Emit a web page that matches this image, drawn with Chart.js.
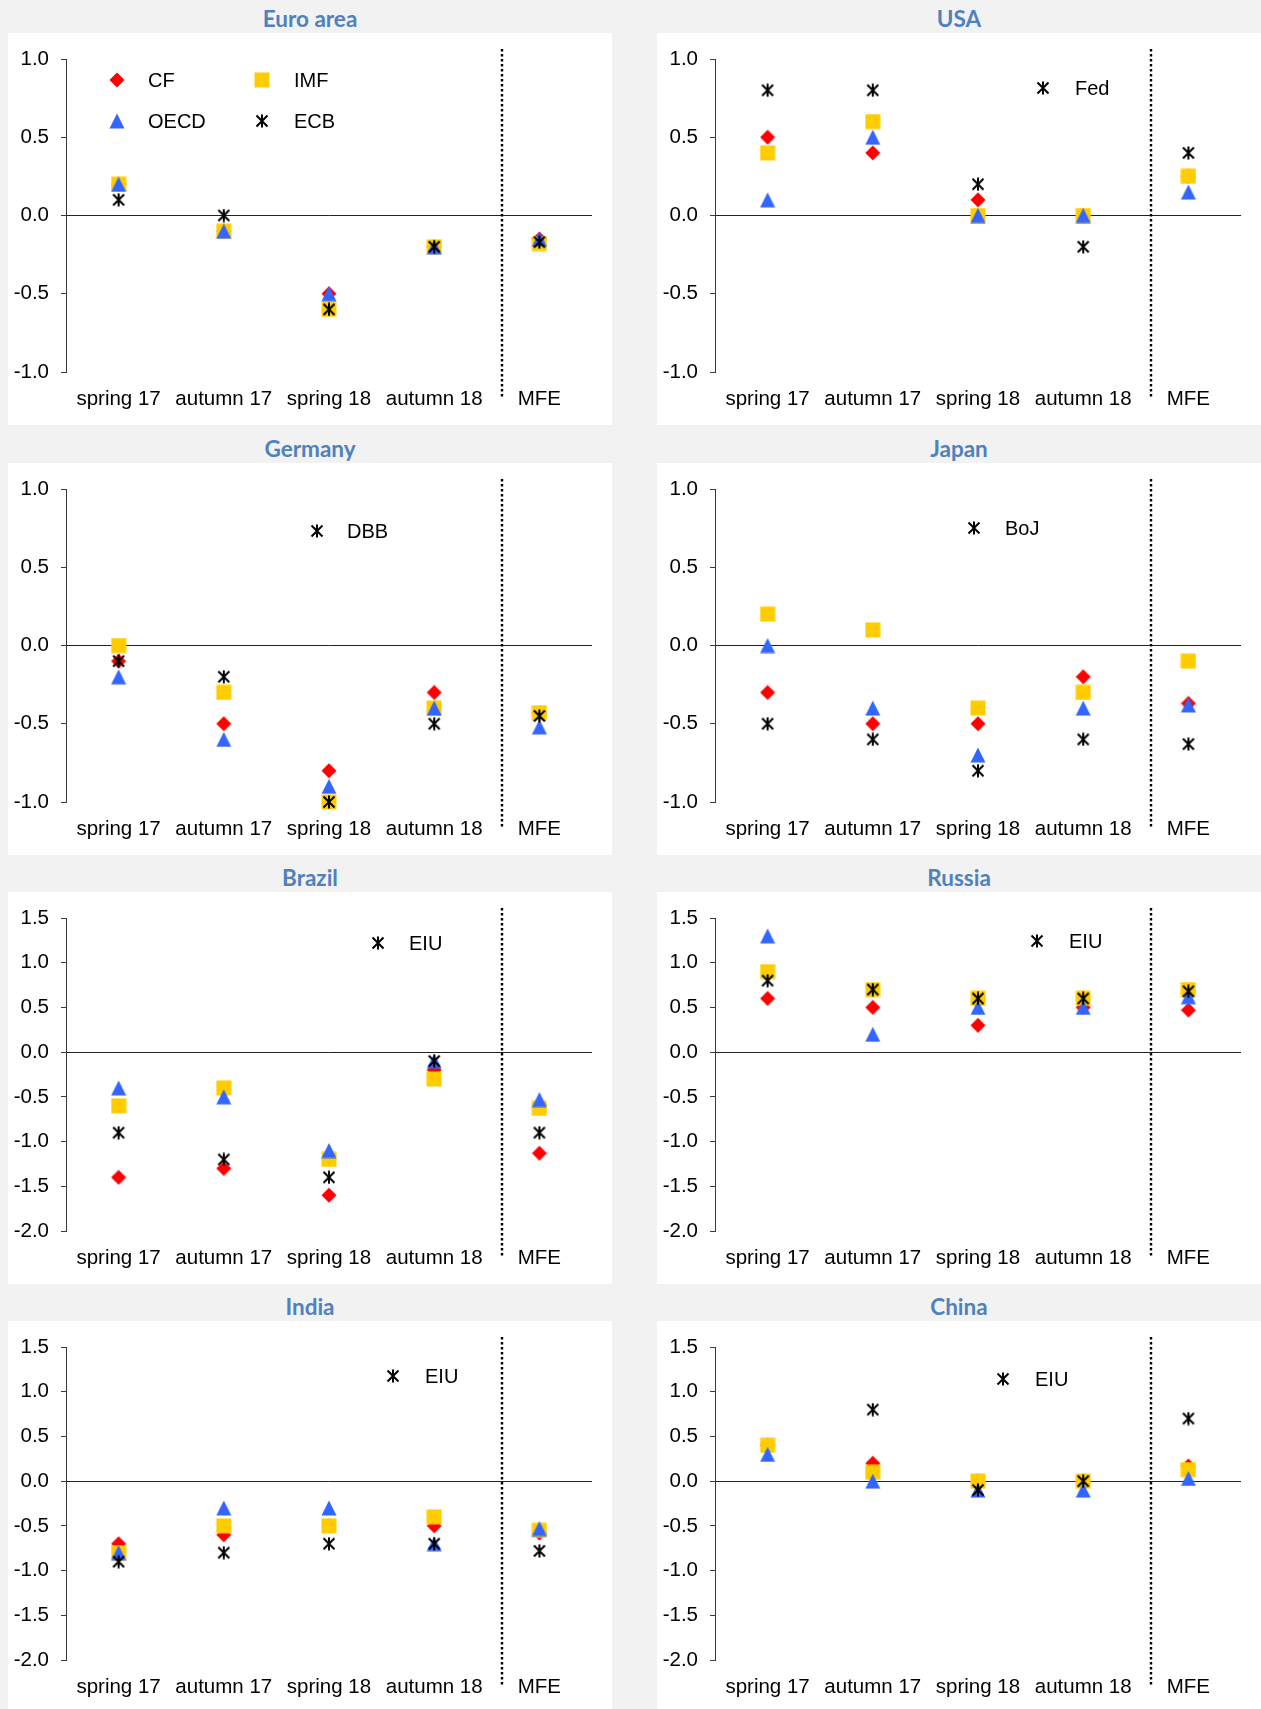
<!DOCTYPE html>
<html><head><meta charset="utf-8">
<script src="https://cdn.jsdelivr.net/npm/chart.js@4.4.1/dist/chart.umd.min.js"></script>
<style>
html,body{margin:0;padding:0;background:#f2f2f2;width:1261px;height:1709px;overflow:hidden;position:relative;font-family:"Liberation Sans",Arial,sans-serif;}
.panel{position:absolute;background:#fff;width:604px;height:392px;}
.panel canvas{display:block;}
.title{position:absolute;width:604px;text-align:center;font-family:Lato,"Open Sans",sans-serif;font-weight:bold;font-size:22.5px;color:#4f81bd;height:30px;line-height:30px;}
.lg{position:absolute;font-size:20px;color:#000;line-height:22px;height:22px;white-space:nowrap;}
.lgm{position:absolute;}
</style></head><body>
<script>
// ---- DATA ----
const categories = ['spring 17', 'autumn 17', 'spring 18', 'autumn 18', 'MFE'];
const separatorAt = 3.64; // dotted separator between autumn 18 and MFE (category units)

// Euro area
const euroCF   = [0.2, -0.1, -0.5, -0.2, -0.15];
const euroIMF  = [0.2, -0.1, -0.6, -0.2, -0.18];
const euroOECD = [0.2, -0.1, -0.5, -0.2, -0.15];
const euroECB  = [0.1, 0.0, -0.6, -0.2, -0.17];
// USA
const usaCF   = [0.5, 0.4, 0.1, 0.0, 0.25];
const usaIMF  = [0.4, 0.6, 0.0, 0.0, 0.25];
const usaOECD = [0.1, 0.5, 0.0, 0.0, 0.15];
const usaFed  = [0.8, 0.8, 0.2, -0.2, 0.4];
// Germany
const deCF   = [-0.1, -0.5, -0.8, -0.3, -0.43];
const deIMF  = [0.0, -0.3, -1.0, -0.4, -0.43];
const deOECD = [-0.2, -0.6, -0.9, -0.4, -0.52];
const deDBB  = [-0.1, -0.2, -1.0, -0.5, -0.45];
// Japan
const jpCF   = [-0.3, -0.5, -0.5, -0.2, -0.37];
const jpIMF  = [0.2, 0.1, -0.4, -0.3, -0.1];
const jpOECD = [0.0, -0.4, -0.7, -0.4, -0.38];
const jpBoJ  = [-0.5, -0.6, -0.8, -0.6, -0.63];
// Brazil
const brCF   = [-1.4, -1.3, -1.6, -0.2, -1.13];
const brIMF  = [-0.6, -0.4, -1.2, -0.3, -0.63];
const brOECD = [-0.4, -0.5, -1.1, -0.1, -0.53];
const brEIU  = [-0.9, -1.2, -1.4, -0.1, -0.9];
// Russia
const ruCF   = [0.6, 0.5, 0.3, 0.5, 0.47];
const ruIMF  = [0.9, 0.7, 0.6, 0.6, 0.7];
const ruOECD = [1.3, 0.2, 0.5, 0.5, 0.62];
const ruEIU  = [0.8, 0.7, 0.6, 0.6, 0.68];
// India
const inCF   = [-0.7, -0.6, -0.5, -0.5, -0.58];
const inIMF  = [-0.8, -0.5, -0.5, -0.4, -0.55];
const inOECD = [-0.8, -0.3, -0.3, -0.7, -0.53];
const inEIU  = [-0.9, -0.8, -0.7, -0.7, -0.78];
// China
const cnCF   = [0.4, 0.2, 0.0, 0.0, 0.17];
const cnIMF  = [0.4, 0.1, 0.0, 0.0, 0.13];
const cnOECD = [0.3, 0.0, -0.1, -0.1, 0.03];
const cnEIU  = [null, 0.8, -0.1, 0.0, 0.7];

const axisSmall = [-1.0, 1.0];
const axisLarge = [-2.0, 1.5];

// ---- STYLE / LAYOUT ----
const FONT = '"Liberation Sans", Arial, sans-serif';
const FS = 20.5;
const COLORS = {CF: '#ff0000', IMF: '#ffcc00', OECD: '#3366ff', CB: '#000000'};

function makeMarker(kind) {
  const c = document.createElement('canvas');
  const s = kind === 'star' ? 14 : 16;
  c.width = s; c.height = s;
  const g = c.getContext('2d');
  if (kind === 'diamond') {
    g.fillStyle = COLORS.CF;
    g.beginPath(); g.moveTo(0.5, 8); g.lineTo(8, 0.5); g.lineTo(15.5, 8); g.lineTo(8, 15.5); g.closePath(); g.fill();
  } else if (kind === 'square') {
    g.fillStyle = COLORS.IMF; g.fillRect(0.5, 0.5, 15, 15);
  } else if (kind === 'triangle') {
    g.fillStyle = COLORS.OECD;
    g.beginPath(); g.moveTo(8, 0.5); g.lineTo(15.5, 15.5); g.lineTo(0.5, 15.5); g.closePath(); g.fill();
  } else {
    g.strokeStyle = COLORS.CB; g.lineWidth = 2;
    g.beginPath();
    g.moveTo(1.5, 1.5); g.lineTo(12.5, 12.5);
    g.moveTo(12.5, 1.5); g.lineTo(1.5, 12.5);
    g.moveTo(7, 0.5); g.lineTo(7, 13.5);
    g.stroke();
  }
  return c;
}
const MK = {diamond: makeMarker('diamond'), square: makeMarker('square'), triangle: makeMarker('triangle'), star: makeMarker('star')};

const COLX = [8, 657];
const ROWY = [33, 463, 892, 1321];

const panels = [
  {title: 'Euro area', col: 0, row: 0, range: axisSmall, cf: euroCF, imf: euroIMF, oecd: euroOECD, cb: euroECB, cbName: 'ECB',
   legend: [['diamond', 'CF', 117, 80, 148], ['square', 'IMF', 262, 80, 294], ['triangle', 'OECD', 117, 121, 148], ['star', 'ECB', 262, 121, 294]]},
  {title: 'USA', col: 1, row: 0, range: axisSmall, cf: usaCF, imf: usaIMF, oecd: usaOECD, cb: usaFed, cbName: 'Fed',
   legend: [['star', 'Fed', 1043, 88, 1075]]},
  {title: 'Germany', col: 0, row: 1, range: axisSmall, cf: deCF, imf: deIMF, oecd: deOECD, cb: deDBB, cbName: 'DBB',
   legend: [['star', 'DBB', 317, 531, 347]]},
  {title: 'Japan', col: 1, row: 1, range: axisSmall, cf: jpCF, imf: jpIMF, oecd: jpOECD, cb: jpBoJ, cbName: 'BoJ',
   legend: [['star', 'BoJ', 974, 528, 1005]]},
  {title: 'Brazil', col: 0, row: 2, range: axisLarge, cf: brCF, imf: brIMF, oecd: brOECD, cb: brEIU, cbName: 'EIU',
   legend: [['star', 'EIU', 378, 943, 409]]},
  {title: 'Russia', col: 1, row: 2, range: axisLarge, cf: ruCF, imf: ruIMF, oecd: ruOECD, cb: ruEIU, cbName: 'EIU',
   legend: [['star', 'EIU', 1037, 941, 1069]]},
  {title: 'India', col: 0, row: 3, range: axisLarge, cf: inCF, imf: inIMF, oecd: inOECD, cb: inEIU, cbName: 'EIU',
   legend: [['star', 'EIU', 393, 1376, 425]]},
  {title: 'China', col: 1, row: 3, range: axisLarge, cf: cnCF, imf: cnIMF, oecd: cnOECD, cb: cnEIU, cbName: 'EIU',
   legend: [['star', 'EIU', 1003, 1379, 1035]]}
];

const sepPlugin = {
  id: 'sep',
  beforeDatasetsDraw(chart, args, opts) {
    const ctx = chart.ctx;
    const x = Math.round(chart.scales.x.getPixelForValue(opts.at));
    const {top, bottom} = chart.chartArea;
    ctx.save();
    ctx.strokeStyle = '#000';
    ctx.lineWidth = 2.4;
    ctx.setLineDash([2.4, 2.6]);
    ctx.beginPath();
    ctx.moveTo(x, top - 10);
    ctx.lineTo(x, bottom + 27);
    ctx.stroke();
    ctx.restore();
  }
};

function ds(label, data, style, order) {
  return {label, data, pointStyle: style, pointRadius: 7, pointHoverRadius: 7, showLine: false,
          borderWidth: 0, backgroundColor: 'transparent', borderColor: 'transparent', order, clip: false};
}

panels.forEach(p => {
  const left = COLX[p.col], top = ROWY[p.row];
  const t = document.createElement('div');
  t.className = 'title'; t.textContent = p.title;
  t.style.left = left + 'px'; t.style.top = (top - 29) + 'px';
  document.body.appendChild(t);

  const d = document.createElement('div');
  d.className = 'panel'; d.style.left = left + 'px'; d.style.top = top + 'px';
  const cv = document.createElement('canvas');
  cv.width = 604; cv.height = 392; cv.style.width = '604px'; cv.style.height = '392px';
  d.appendChild(cv);
  document.body.appendChild(d);

  new Chart(cv.getContext('2d'), {
    type: 'line',
    data: {
      labels: categories,
      datasets: [
        ds(p.cbName, p.cb, MK.star, 1),
        ds('OECD', p.oecd, MK.triangle, 2),
        ds('IMF', p.imf, MK.square, 3),
        ds('CF', p.cf, MK.diamond, 4)
      ]
    },
    options: {
      responsive: false, animation: false, devicePixelRatio: 1, events: [],
      layout: {padding: {top: 26, right: 20, left: 0, bottom: 0}},
      plugins: {legend: {display: false}, tooltip: {enabled: false}, sep: {at: separatorAt}},
      scales: {
        x: {
          type: 'category', offset: true,
          grid: {display: false}, border: {display: false},
          ticks: {font: {family: FONT, size: FS}, color: '#000', padding: 7, maxRotation: 0, autoSkip: false},
          afterFit(s) { s.height = 53; }
        },
        y: {
          min: p.range[0], max: p.range[1],
          border: {display: true, color: '#3a3a3a', width: 1},
          grid: {
            color: c => (c.tick && c.tick.value === 0) ? '#222' : 'rgba(0,0,0,0)',
            lineWidth: 1, drawTicks: true, tickLength: 5, tickColor: '#3a3a3a', tickWidth: 1
          },
          ticks: {stepSize: 0.5, font: {family: FONT, size: FS}, color: '#000', padding: 12,
                  callback: v => Number(v).toFixed(1)},
          afterFit(s) { s.width = 58; }
        }
      }
    },
    plugins: [sepPlugin]
  });

  p.legend.forEach(([kind, text, mx, my, tx]) => {
    const src = MK[kind];
    const m = document.createElement('canvas');
    m.width = src.width; m.height = src.height; m.className = 'lgm';
    m.getContext('2d').drawImage(src, 0, 0);
    m.style.left = (mx - src.width / 2) + 'px'; m.style.top = (my - src.height / 2) + 'px';
    document.body.appendChild(m);
    const s = document.createElement('div');
    s.className = 'lg'; s.textContent = text;
    s.style.left = tx + 'px'; s.style.top = (my - 11) + 'px';
    document.body.appendChild(s);
  });
});
</script>
</body></html>
